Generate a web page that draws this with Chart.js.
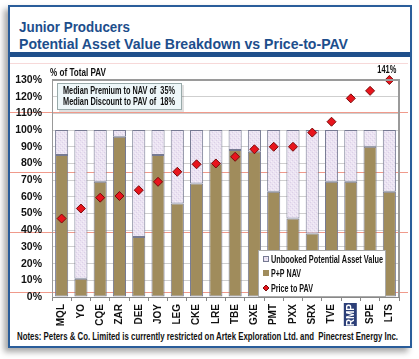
<!DOCTYPE html>
<html>
<head>
  <title>Junior Producers PAV Breakdown</title>
  <script src="https://cdn.jsdelivr.net/npm/chart.js"></script>
  <style>
    body {
      margin: 0;
      width: 419px;
      height: 359px;
      background: #fff;
      overflow: hidden;
      position: relative;
      font-family: "Liberation Sans", Arial, sans-serif;
    }
    #frame {
      position: absolute;
      left: 8px;
      top: 5px;
      width: 400px;
      height: 339px;
      border: 2px solid #2a5d9a;
      box-shadow: -4px 4px 6px rgba(0,0,0,0.35);
      background: #fff;
    }
    #titleBar {
      position: absolute;
      left: 0;
      top: 0;
      width: 400px;
      height: 45px;
      border-bottom: 5px solid #1f4f8b;
    }
    .fit {
      position: absolute;
      white-space: nowrap;
      transform-origin: left top;
      font-weight: bold;
    }
    .title {
      left: 9px;
      font-size: 15px;
      line-height: 15px;
      color: #1d4e8c;
    }
    #notes {
      left: 7px;
      top: 325px;
      font-size: 10px;
      line-height: 10px;
      color: #111;
    }
    #chartBox {
      position: absolute;
      left: 0;
      top: 0;
      width: 419px;
      height: 359px;
    }
  </style>
</head>
<body>
  <div id="frame">
    <div id="titleBar">
      <div class="fit title" id="t1" data-w="111" style="top:12px">Junior Producers</div>
      <div class="fit title" id="t2" data-w="329" style="top:29px">Potential Asset Value Breakdown vs Price-to-PAV</div>
    </div>
    <div class="fit" id="notes" data-w="381">Notes: Peters &amp; Co. Limited is currently restricted on Artek Exploration Ltd. and&nbsp; Pinecrest Energy Inc.</div>
  </div>
  <div id="chartBox"><canvas id="chart" width="419" height="359"></canvas></div>

  <script>
    // data
    const categories = ['MQL','YO','CQE','ZAR','DEE','JOY','LEG','CKE','LRE','TBE','GXE','PMT','PXX','SRX','TVE','RMP','SPE','LTS'];
    const ppNav      = [85, 11, 69, 96, 36, 85, 56, 68, 80, 88, 87, 63, 47, 38, 69, 69, 90, 63];
    const unbooked   = [15, 89, 31,  4, 64, 15, 44, 32, 20, 12, 13, 37, 53, 62, 31, 31, 10, 37];
    const priceToPav = [47, 53, 59.5, 60.5, 64, 69, 75, 79.5, 80, 84, 88.5, 90, 90, 98.5, 105, 119, 123.5, 141];
    const highlighted = 'RMP';
    const yMax = 130;
    const yStep = 10;
    const axisTitle = '% of Total PAV';
    const noteLines = ['Median Premium to NAV of  35%', 'Median Discount to PAV of  18%'];
    const legendLabels = ['Unbooked Potential Asset Value', 'P+P NAV', 'Price to PAV'];

    const FONT = '"Liberation Sans", Arial, sans-serif';
    const TAN = '#a08c5c';
    const LAV = '#ebe3f2';
    const BAR_EDGE = '#767a92';
    const RED = '#e8141c';

    // squeeze html text to the widths in the picture
    document.querySelectorAll('.fit').forEach(el => {
      const w = el.getBoundingClientRect().width;
      el.style.transform = 'scaleX(' + (Number(el.dataset.w) / w) + ')';
    });

    // condensed canvas text: draws text squeezed to width w
    function narrowText(ctx, text, x, y, w) {
      const m = ctx.measureText(text).width;
      ctx.save();
      ctx.translate(x, y);
      ctx.scale(w / m, 1);
      ctx.fillText(text, 0, 0);
      ctx.restore();
    }

    // light hatch for the unbooked part
    function hatch() {
      const c = document.createElement('canvas');
      c.width = 4; c.height = 4;
      const g = c.getContext('2d');
      g.fillStyle = LAV;
      g.fillRect(0, 0, 4, 4);
      g.fillStyle = '#dcd0e8';
      g.fillRect(0, 0, 1, 1);
      g.fillRect(2, 2, 1, 1);
      g.fillStyle = '#f4eff8';
      g.fillRect(1, 3, 1, 1);
      g.fillRect(3, 1, 1, 1);
      return g.createPattern(c, 'repeat');
    }

    function diamond(ctx, x, y, r) {
      ctx.beginPath();
      ctx.moveTo(x - r, y);
      ctx.lineTo(x, y - r);
      ctx.lineTo(x + r, y);
      ctx.lineTo(x, y + r);
      ctx.closePath();
      ctx.fillStyle = RED;
      ctx.fill();
      ctx.strokeStyle = '#7a0a0a';
      ctx.lineWidth = 1;
      ctx.stroke();
    }

    const decor = {
      id: 'decor',
      beforeDraw(chart) {
        const ctx = chart.ctx;
        const x = chart.scales.x;
        ctx.save();
        // faint red ruled lines across the panel
        ctx.strokeStyle = 'rgba(235,120,100,0.75)';
        ctx.lineWidth = 1;
        [112, 172, 232, 292].forEach(y => {
          ctx.beginPath();
          ctx.moveTo(10, y + 0.5);
          ctx.lineTo(408, y + 0.5);
          ctx.stroke();
        });
        ctx.strokeStyle = 'rgba(240,180,180,0.5)';
        ctx.beginPath();
        ctx.moveTo(10, 63.5);
        ctx.lineTo(408, 63.5);
        ctx.stroke();
        // dark box behind the highlighted ticker
        const i = categories.indexOf(highlighted);
        const cx = x.getPixelForValue(i);
        ctx.fillStyle = '#2c3f78';
        ctx.fillRect(cx - 7, x.top + 6, 13, 23);
        ctx.restore();
      },
      afterDraw(chart) {
        const ctx = chart.ctx;
        const a = chart.chartArea;
        ctx.save();
        // plot frame top and right
        ctx.strokeStyle = '#9a9a9a';
        ctx.lineWidth = 2;
        ctx.beginPath();
        ctx.moveTo(a.left, a.top);
        ctx.lineTo(a.right, a.top);
        ctx.lineTo(a.right, a.bottom);
        ctx.stroke();

        // axis title
        ctx.fillStyle = '#111';
        ctx.font = 'bold 11px ' + FONT;
        ctx.textBaseline = 'middle';
        ctx.textAlign = 'left';
        narrowText(ctx, axisTitle, a.left - 2, a.top - 7, 56);

        // label for the clipped last point
        const meta = chart.getDatasetMeta(2);
        priceToPav.forEach((v, k) => {
          if (v > yMax) {
            const p = meta.data[k];
            ctx.font = 'bold 10px ' + FONT;
            narrowText(ctx, v + '%', p.x - 12, p.y - 10, 19);
          }
        });

        // median note box
        ctx.fillStyle = 'rgba(0,0,0,0.12)';
        ctx.fillRect(a.left + 7, a.top + 5, 125, 27);
        ctx.fillStyle = '#eef7f9';
        ctx.fillRect(a.left + 5, a.top + 3, 125, 27);
        ctx.strokeStyle = '#9aa';
        ctx.lineWidth = 1;
        ctx.strokeRect(a.left + 5.5, a.top + 3.5, 124, 26);
        ctx.fillStyle = '#111';
        ctx.font = 'bold 10px ' + FONT;
        noteLines.forEach((t, k) => narrowText(ctx, t, a.left + 11, a.top + 11 + k * 11, 112));

        // legend box
        const lx = a.right - 141, ly = a.bottom - 47, lw = 127, lh = 46;
        ctx.fillStyle = '#fff';
        ctx.fillRect(lx, ly, lw, lh);
        ctx.strokeStyle = '#aaa';
        ctx.strokeRect(lx + 0.5, ly + 0.5, lw, lh);
        const rows = [ly + 9, ly + 23, ly + 38];
        ctx.fillStyle = hatch();
        ctx.fillRect(lx + 5, rows[0] - 3, 6, 6);
        ctx.strokeStyle = BAR_EDGE;
        ctx.strokeRect(lx + 5.5, rows[0] - 2.5, 5, 5);
        ctx.fillStyle = TAN;
        ctx.fillRect(lx + 5, rows[1] - 3, 6, 6);
        diamond(ctx, lx + 8, rows[2], 3);
        ctx.fillStyle = '#111';
        ctx.font = 'bold 11px ' + FONT;
        const widths = [112, 30, 42];
        legendLabels.forEach((t, k) => narrowText(ctx, t, lx + 13, rows[k] + 0.5, widths[k]));
        ctx.restore();
      }
    };

    const ctx = document.getElementById('chart').getContext('2d');
    const chart = new Chart(ctx, {
      data: {
        labels: categories,
        datasets: [
          {
            type: 'bar',
            label: 'P+P NAV',
            data: ppNav,
            stack: 's',
            order: 2,
            backgroundColor: TAN,
            borderColor: BAR_EDGE,
            borderWidth: 1,
            borderSkipped: false,
            barPercentage: 0.68,
            categoryPercentage: 1
          },
          {
            type: 'bar',
            label: 'Unbooked Potential Asset Value',
            data: unbooked,
            stack: 's',
            order: 3,
            backgroundColor: hatch(),
            borderColor: BAR_EDGE,
            borderWidth: 1,
            borderSkipped: false,
            barPercentage: 0.68,
            categoryPercentage: 1
          },
          {
            type: 'line',
            label: 'Price to PAV',
            data: priceToPav.map(v => Math.min(v, yMax)),
            order: 1,
            showLine: false,
            pointStyle: 'rectRot',
            pointRadius: 4.5,
            pointBackgroundColor: RED,
            pointBorderColor: '#7a0a0a',
            pointBorderWidth: 1,
            clip: false
          }
        ]
      },
      options: {
        responsive: false,
        animation: false,
        layout: { padding: { top: 80, right: 20, bottom: 28, left: 0 } },
        plugins: { legend: { display: false }, tooltip: { enabled: false } },
        scales: {
          x: {
            stacked: true,
            offset: true,
            grid: { drawOnChartArea: false, drawTicks: true, tickLength: 4, color: '#888', offset: true },
            border: { color: '#888' },
            ticks: {
              autoSkip: false,
              minRotation: 90,
              maxRotation: 90,
              padding: 3,
              font: { family: FONT, weight: 'bold', size: 10 },
              color: c => categories[c.index] === highlighted ? '#fff' : '#111'
            },
            afterFit: s => { s.height = 34; }
          },
          y: {
            stacked: true,
            min: 0,
            max: yMax,
            grid: { color: '#cfcfcf', drawTicks: false },
            border: { color: '#999' },
            ticks: {
              stepSize: yStep,
              autoSkip: false,
              padding: 10,
              callback: v => v + '%',
              font: { family: FONT, weight: 'bold', size: 10.5 },
              color: '#111'
            },
            afterFit: s => { s.width = 52; }
          }
        }
      },
      plugins: [decor]
    });
  </script>
</body>
</html>
